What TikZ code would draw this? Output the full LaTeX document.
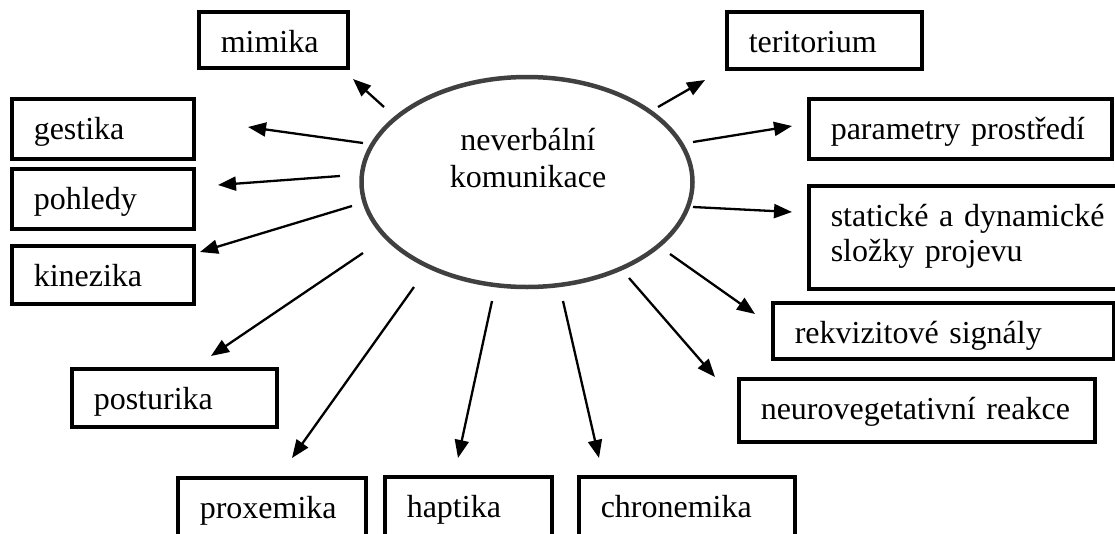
\documentclass[tikz,border=0pt]{standalone}
\usepackage{fontspec}
\setmainfont{Liberation Serif}
\usetikzlibrary{arrows.meta,shapes.geometric}
\definecolor{ellgray}{HTML}{404040}
\begin{document}
\begin{tikzpicture}[x=1pt,y=-1pt,
  box/.style={draw=black, line width=3.5pt, anchor=north west, inner xsep=22pt,
    inner ysep=0pt, text height=41pt, align=left, font=\fontsize{32}{35}\selectfont},
  arr/.style={draw=black, line width=2.3pt, -{Triangle[length=18pt,width=14pt]}},
]
\useasboundingbox (0,0) rectangle (1115,533);
\clip (0,0) rectangle (1115,533);

% central ellipse
\node[ellipse, draw=ellgray, line width=4.5pt, minimum width=331pt,
  minimum height=210pt, inner sep=0pt] (ell) at (527,182) {};
\node[align=center, inner sep=0pt, font=\fontsize{32}{37}\selectfont]
  (ellT) at (528,158) {neverbální\\komunikace};

% boxes
\node[box, text width=105pt, text depth=15pt] (mim) at (197,10) {mimika};
\node[box, text width=138pt, text depth=19pt] (ges) at (10,97) {gestika};
\node[box, text width=138pt, text depth=19pt] (poh) at (10,167) {pohledy};
\node[box, text width=138pt, text depth=17pt] (kin) at (10,244) {kinezika};
\node[box, text width=161pt, text depth=17pt] (pos) at (70,367) {posturika};
\node[box, text width=144pt, text depth=40pt] (pro) at (176,476) {proxemika};
\node[box, text width=123pt, text depth=40pt] (hap) at (383,475) {haptika};
\node[box, text width=172pt, text depth=40pt] (chr) at (577,475) {chronemika};
\node[box, text width=151pt, text depth=16pt] (ter) at (725,10) {teritorium};
\node[box, text width=259pt, text depth=19pt] (par) at (807,97) {parametry prostředí};
\node[box, text width=265pt, text depth=62pt] (sta) at (807,184)
  {\mbox{statické a dynamické}\\složky projevu};
\node[box, text width=297pt, text depth=15pt] (rek) at (771,301) {rekvizitové signály};
\node[box, text width=312pt, text depth=22pt] (neu) at (737,377) {neurovegetativní reakce};

% arrow end points
\coordinate (sMim) at (384,107); \coordinate (tMim) at (353,79);
\coordinate (sGes) at (363,143); \coordinate (tGes) at (248,127);
\coordinate (sPoh) at (340,176); \coordinate (tPoh) at (218,185);
\coordinate (sKin) at (352,206); \coordinate (tKin) at (200,252);
\coordinate (sPos) at (363,253); \coordinate (tPos) at (211,356);
\coordinate (sPro) at (414,287); \coordinate (tPro) at (292,458);
\coordinate (sHap) at (492,301); \coordinate (tHap) at (458,458);
\coordinate (sChr) at (563,301); \coordinate (tChr) at (599,458);
\coordinate (sNeu) at (629,278); \coordinate (tNeu) at (715,377);
\coordinate (sRek) at (670,254); \coordinate (tRek) at (755,314);
\coordinate (sSta) at (693,207); \coordinate (tSta) at (792,212);
\coordinate (sPar) at (693,142); \coordinate (tPar) at (792,126);
\coordinate (sTer) at (658,107); \coordinate (tTer) at (705,80);

\foreach \n in {Mim,Ges,Poh,Kin,Pos,Pro,Hap,Chr,Neu,Rek,Sta,Par,Ter}
  \draw[arr] (s\n) -- (t\n);
\end{tikzpicture}
\end{document}
